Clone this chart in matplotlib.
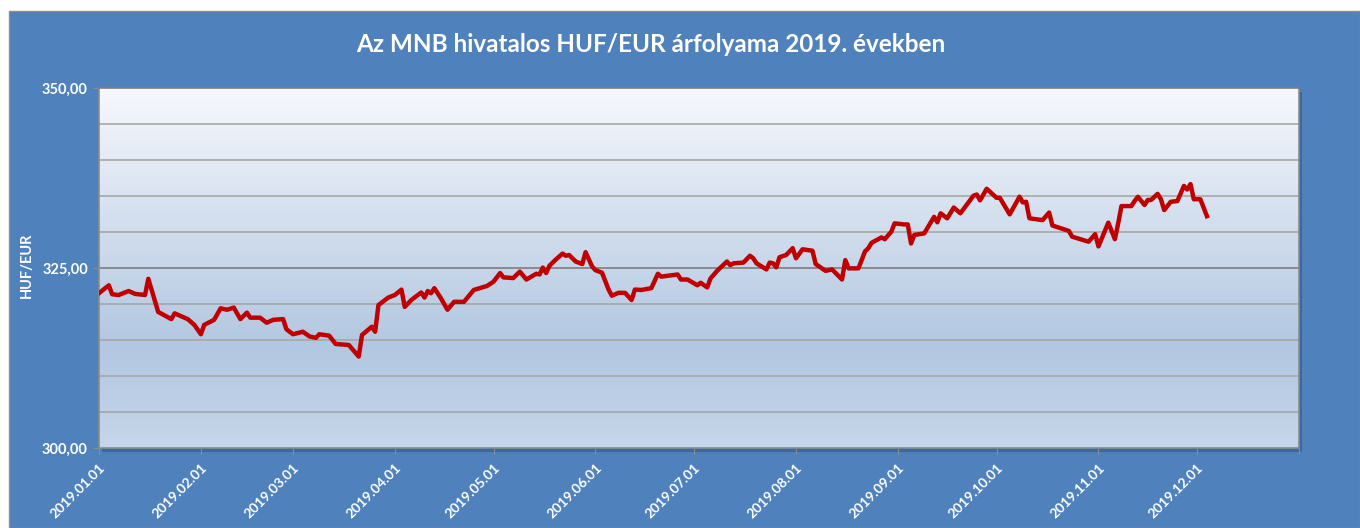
import numpy as np
import pandas as pd
import matplotlib
matplotlib.use("Agg")
import matplotlib.pyplot as plt
from matplotlib.colors import LinearSegmentedColormap
from matplotlib.patches import Rectangle

plt.rcParams["font.family"] = ["Lato", "DejaVu Sans"]

# MNB HUF/EUR, 2019
dates = [
    "2019-01-01", "2019-01-04", "2019-01-05", "2019-01-07", "2019-01-10", "2019-01-12",
    "2019-01-15", "2019-01-16", "2019-01-19", "2019-01-23", "2019-01-24", "2019-01-26",
    "2019-01-28", "2019-01-30", "2019-02-01", "2019-02-02", "2019-02-05", "2019-02-07",
    "2019-02-09", "2019-02-11", "2019-02-13", "2019-02-15", "2019-02-16", "2019-02-19",
    "2019-02-21", "2019-02-23", "2019-02-26", "2019-02-27", "2019-03-01", "2019-03-04",
    "2019-03-06", "2019-03-08", "2019-03-09", "2019-03-12", "2019-03-14", "2019-03-18",
    "2019-03-21", "2019-03-22", "2019-03-25", "2019-03-26", "2019-03-27", "2019-03-30",
    "2019-04-01", "2019-04-03", "2019-04-04", "2019-04-06", "2019-04-09", "2019-04-10",
    "2019-04-11", "2019-04-12", "2019-04-13", "2019-04-15", "2019-04-17", "2019-04-19",
    "2019-04-22", "2019-04-25", "2019-04-29", "2019-05-01", "2019-05-03", "2019-05-04",
    "2019-05-07", "2019-05-09", "2019-05-11", "2019-05-14", "2019-05-15", "2019-05-16",
    "2019-05-17", "2019-05-18", "2019-05-20", "2019-05-22", "2019-05-23", "2019-05-24",
    "2019-05-26", "2019-05-28", "2019-05-29", "2019-05-31", "2019-06-01", "2019-06-03",
    "2019-06-05", "2019-06-06", "2019-06-08", "2019-06-10", "2019-06-12", "2019-06-13",
    "2019-06-15", "2019-06-18", "2019-06-20", "2019-06-21", "2019-06-26", "2019-06-27",
    "2019-06-29", "2019-07-02", "2019-07-03", "2019-07-05", "2019-07-06", "2019-07-08",
    "2019-07-11", "2019-07-12", "2019-07-13", "2019-07-16", "2019-07-18", "2019-07-19",
    "2019-07-20", "2019-07-23", "2019-07-24", "2019-07-25", "2019-07-26", "2019-07-27",
    "2019-07-29", "2019-07-31", "2019-08-01", "2019-08-03", "2019-08-06", "2019-08-07",
    "2019-08-10", "2019-08-12", "2019-08-15", "2019-08-16", "2019-08-17", "2019-08-20",
    "2019-08-22", "2019-08-23", "2019-08-24", "2019-08-27", "2019-08-28", "2019-08-30",
    "2019-08-31", "2019-09-03", "2019-09-04", "2019-09-05", "2019-09-06", "2019-09-09",
    "2019-09-12", "2019-09-13", "2019-09-14", "2019-09-16", "2019-09-18", "2019-09-20",
    "2019-09-24", "2019-09-25", "2019-09-26", "2019-09-28", "2019-10-01", "2019-10-02",
    "2019-10-05", "2019-10-08", "2019-10-09", "2019-10-10", "2019-10-11", "2019-10-15",
    "2019-10-17", "2019-10-18", "2019-10-23", "2019-10-24", "2019-10-29", "2019-10-31",
    "2019-11-01", "2019-11-04", "2019-11-06", "2019-11-07", "2019-11-08", "2019-11-11",
    "2019-11-12", "2019-11-13", "2019-11-15", "2019-11-16", "2019-11-17", "2019-11-19",
    "2019-11-20", "2019-11-21", "2019-11-23", "2019-11-25", "2019-11-27", "2019-11-28",
    "2019-11-29", "2019-11-30", "2019-12-02", "2019-12-04",
]
rates = [
    321.50, 322.60, 321.35, 321.25, 321.80, 321.40,
    321.25, 323.50, 318.90, 317.90, 318.70, 318.30,
    317.90, 317.10, 315.80, 317.10, 317.80, 319.40,
    319.20, 319.50, 317.90, 318.80, 318.10, 318.10,
    317.40, 317.80, 317.90, 316.50, 315.80, 316.15,
    315.50, 315.30, 315.80, 315.60, 314.45, 314.30,
    312.70, 315.70, 316.85, 316.15, 319.85, 320.90,
    321.25, 322.00, 319.60, 320.55, 321.60, 320.90,
    321.80, 321.50, 322.20, 320.80, 319.20, 320.30,
    320.30, 321.95, 322.50, 323.10, 324.30, 323.70,
    323.60, 324.50, 323.40, 324.20, 324.10, 325.05,
    324.30, 325.30, 326.20, 327.00, 326.70, 326.80,
    325.90, 325.55, 327.20, 325.20, 324.70, 324.35,
    322.00, 321.15, 321.55, 321.55, 320.55, 322.00,
    321.95, 322.20, 324.20, 323.80, 324.10, 323.40,
    323.40, 322.60, 322.95, 322.30, 323.55, 324.60,
    325.90, 325.40, 325.65, 325.75, 326.70, 326.35,
    325.65, 324.80, 325.75, 325.65, 325.10, 326.50,
    326.80, 327.75, 326.35, 327.60, 327.40, 325.55,
    324.60, 324.80, 323.40, 326.10, 324.95, 324.95,
    327.30, 327.75, 328.50, 329.25, 329.00, 330.05,
    331.20, 331.05, 331.05, 328.40, 329.60, 329.80,
    332.10, 331.35, 332.60, 331.90, 333.40, 332.60,
    335.05, 335.20, 334.40, 336.00, 334.75, 334.75,
    332.45, 334.90, 334.10, 334.20, 331.90, 331.65,
    332.70, 330.90, 330.15, 329.35, 328.65, 329.70,
    328.00, 331.30, 329.00, 331.20, 333.60, 333.60,
    334.30, 334.90, 333.75, 334.45, 334.45, 335.30,
    334.55, 333.05, 334.20, 334.30, 336.40, 335.90,
    336.65, 334.55, 334.55, 332.20,
]

month_ticks = pd.date_range("2019-01-01", "2020-01-01", freq="MS")
tick_labels = [d.strftime("%Y.%m.%d") for d in month_ticks[:-1]] + [""]
y_ticks = [300, 325, 350]
y_labels = ["300,00", "325,00", "350,00"]

title = "Az MNB hivatalos HUF/EUR árfolyama 2019. években"
y_title = "HUF/EUR"

bg_blue = "#4F81BD"
line_red = "#C00000"
grid_c = "#A6A6A6"

W, H = 1360, 528
fig = plt.figure(figsize=(W / 100, H / 100), dpi=100)
fig.patch.set_facecolor("white")

# blue chart area with thin grey frame
fig.patches.append(Rectangle((9 / W, 0), 1 - 9 / W, (H - 11) / H, transform=fig.transFigure,
                             facecolor=bg_blue, edgecolor="#8C8C8C", lw=1, zorder=0))

l, r, t, b = 99, 1299, 88, 448
pos = [l / W, (H - b) / H, (r - l) / W, (b - t) / H]

# soft shadow behind plot area
fig.patches.append(Rectangle((pos[0] + 3 / W, pos[1] - 4 / H), pos[2], pos[3],
                             transform=fig.transFigure, facecolor="#2B4A73",
                             alpha=0.45, lw=0, zorder=0.5))

# gradient fill of the plot area
bg = fig.add_axes(pos, zorder=1)
cmap = LinearSegmentedColormap.from_list(
    "plotgrad", [(0, "#F6F8FC"), (0.72, "#B2C7E1"), (1, "#C6D6EA")])
grad = np.linspace(0, 1, 256).reshape(-1, 1)
bg.imshow(grad, aspect="auto", cmap=cmap, extent=[0, 1, 0, 1])
bg.axis("off")

ax = fig.add_axes(pos, zorder=2)
ax.set_facecolor("none")

x = pd.to_datetime(dates)
ax.plot(x, rates, color=line_red, lw=3.2, solid_joinstyle="round", zorder=3)

ax.set_xlim(month_ticks[0], month_ticks[-1])
ax.set_ylim(300, 350)

# gridlines every 5, darker at 325
for v in np.arange(305, 350, 5):
    ax.axhline(v, color="#7F7F7F" if v == 325 else grid_c, lw=1.2, zorder=1)

ax.set_xticks(month_ticks)
ax.set_xticklabels(tick_labels, rotation=45, ha="right", va="top",
                   rotation_mode="anchor", color="white", fontsize=10, fontweight="bold")
ax.set_yticks(y_ticks)
ax.set_yticklabels(y_labels, color="white", fontsize=10.5, fontweight="bold")
ax.tick_params(axis="x", length=4, color="#8C8C8C", pad=6)
ax.tick_params(axis="y", length=4, color="#8C8C8C", pad=4)

for name, sp in ax.spines.items():
    sp.set_color("#8C8C8C")
    sp.set_linewidth(1.2)
ax.spines["top"].set_color("#7F7F7F")

fig.text(27 / W, 1 - 265 / H, y_title, rotation=90, ha="center", va="center",
         color="white", fontsize=10.5, fontweight="bold")
fig.text(651 / W, 1 - 45 / H, title, ha="center", va="center",
         color="white", fontsize=17.5, fontweight="bold")

fig.savefig("out.png", dpi=100, facecolor=fig.get_facecolor())
